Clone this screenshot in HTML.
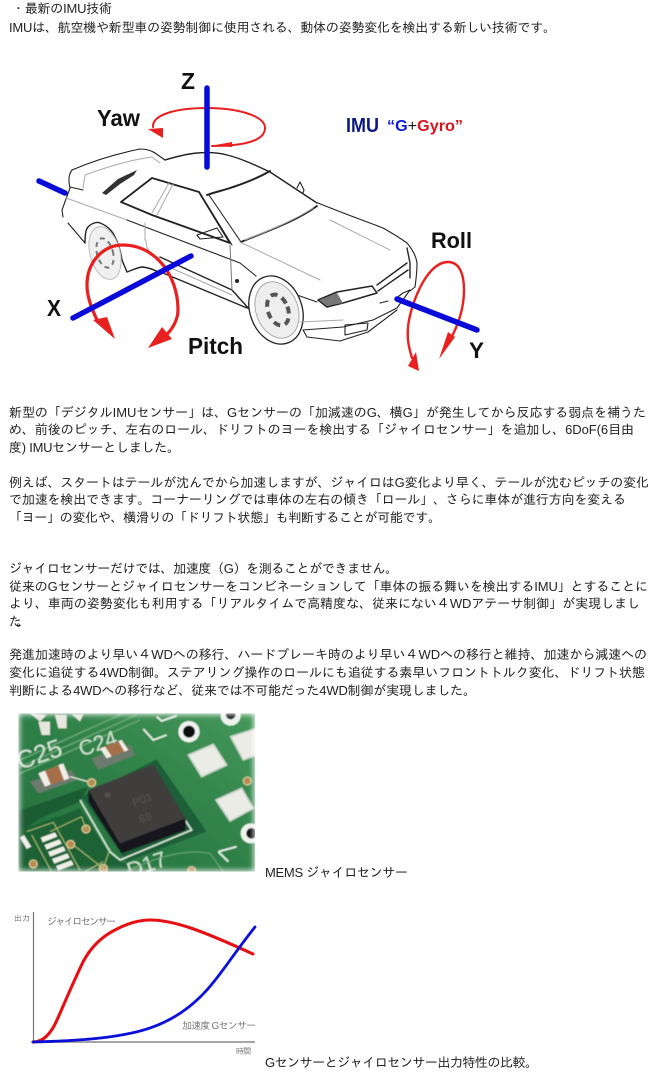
<!DOCTYPE html>
<html lang="ja">
<head>
<meta charset="utf-8">
<title>IMU</title>
<style>
html,body{margin:0;padding:0;background:#fff;width:660px;height:1082px;overflow:hidden}
svg{display:block}
.t text{font-family:"Liberation Sans","IPAGothic","Noto Sans CJK JP",sans-serif;font-size:13px;fill:#222}
.lab{font-family:"Liberation Sans",sans-serif;font-weight:bold;fill:#111}
.c{fill:none;stroke:#222;stroke-width:1.1;stroke-linecap:round;stroke-linejoin:round}
.g{fill:none;stroke:#aaa;stroke-width:1;stroke-linecap:round}
.b{stroke:#0a0ad8;stroke-width:5.5;stroke-linecap:round;fill:none}
.r{stroke:#e8201f;fill:none;stroke-linecap:round}
.s{font-family:"Liberation Sans","IPAGothic","Noto Sans CJK JP",sans-serif;font-size:10px;fill:#777}
</style>
</head>
<body>
<svg width="660" height="1082" viewBox="0 0 660 1082" xmlns="http://www.w3.org/2000/svg">
<defs>
<filter id="bl" x="-5%" y="-5%" width="110%" height="110%"><feGaussianBlur stdDeviation="1.8"/></filter>
<filter id="fe" x="-10%" y="-10%" width="120%" height="120%"><feGaussianBlur stdDeviation="9"/></filter>
<filter id="sf" x="-5%" y="-5%" width="110%" height="110%"><feGaussianBlur stdDeviation=".35"/></filter>
<linearGradient id="pg" x1="0" y1="1" x2="1" y2="0"><stop offset="0" stop-color="#226c3c"/><stop offset=".5" stop-color="#2f8048"/><stop offset="1" stop-color="#479a5c"/></linearGradient>
<clipPath id="pc"><rect x="25" y="25" width="710" height="475"/></clipPath>
</defs>

<g class="t">
<text x="12" y="13" textLength="100">・最新のIMU技術</text>
<text x="9" y="32" textLength="547">IMUは、航空機や新型車の姿勢制御に使用される、動体の姿勢変化を検出する新しい技術です。</text>
<text x="9" y="417" textLength="637">新型の「デジタルIMUセンサー」は、Gセンサーの「加減速のG、横G」が発生してから反応する弱点を補うた</text>
<text x="9" y="434" textLength="625">め、前後のピッチ、左右のロール、ドリフトのヨーを検出する「ジャイロセンサー」を追加し、6DoF(6目由</text>
<text x="9" y="452" textLength="171">度) IMUセンサーとしました。</text>
<text x="9" y="487" textLength="640">例えば、スタートはテールが沈んでから加速しますが、ジャイロはG変化より早く、テールが沈むピッチの変化</text>
<text x="9" y="504" textLength="617">で加速を検出できます。コーナーリングでは車体の左右の傾き「ロール」、さらに車体が進行方向を変える</text>
<text x="9" y="522" textLength="432">「ヨー」の変化や、横滑りの「ドリフト状態」も判断することが可能です。</text>
<text x="9" y="573" textLength="389">ジャイロセンサーだけでは、加速度（G）を測ることができません。</text>
<text x="9" y="591" textLength="639">従来のGセンサーとジャイロセンサーをコンビネーションして「車体の振る舞いを検出するIMU」とすることに</text>
<text x="9" y="608" textLength="631">より、車両の姿勢変化も利用する「リアルタイムで高精度な、従来にない４WDアテーサ制御」が実現しまし</text>
<text x="9" y="626" textLength="20">た。</text>
<text x="9" y="659" textLength="638">発進加速時のより早い４WDへの移行、ハードブレーキ時のより早い４WDへの移行と維持、加速から減速への</text>
<text x="9" y="677" textLength="636">変化に追従する4WD制御。ステアリング操作のロールにも追従する素早いフロントトルク変化、ドリフト状態</text>
<text x="9" y="695" textLength="467">判断による4WDへの移行など、従来では不可能だった4WD制御が実現しました。</text>
<text x="265" y="877" textLength="143">MEMS ジャイロセンサー</text>
<text x="265" y="1067" textLength="273">Gセンサーとジャイロセンサー出力特性の比較。</text>
</g>

<!-- car -->
<g filter="url(#sf)">
<path class="c" d="M70 188C68 180 69 174 72 170C95 160 120 153 140 149C147 149 152 151 155 153L165 160"/>
<path class="g" d="M83 188L85 175C110 166 130 160 152 157L160 163"/>
<path class="c" d="M70 187L83 190"/>
<path d="M102 193L118 179L137 170L134 175L120 184L106 195Z" fill="#333"/>
<path class="c" d="M165 160C175 157 186 154 197 153C210 152 220 153 227 155C240 158 255 165 270 172L317 203" style="stroke-width:1.4"/>
<path class="c" d="M318 203C340 212 362 220 383 228C392 233 400 238 407 243C413 250 416 256 417 263C417 272 416 280 415 287L410 291"/>
<path class="c" style="stroke-width:2" d="M207 195C215 192 225 190 233 187C245 183 258 178 270 171"/>
<path class="c" d="M209 195L241 242"/>
<path class="c" style="stroke-width:1.8" d="M241 242C265 232 295 222 317 206"/>
<path class="g" d="M245 240C270 230 295 220 313 208"/>
<path class="c" style="stroke-width:1.8" d="M121 202L152 178L199 192L230 243L152 215Z"/>
<path class="g" d="M169 183L152 213M173 184L157 215"/>
<path class="c" d="M199 192L232 245"/>
<path class="c" d="M70 188L62 210L63 217M68 223L85 243"/>
<path class="g" d="M66 198L127 220"/>
<path class="c" d="M127 220L240 263L256 276"/>
<path class="c" style="stroke-width:1.4" d="M160 257L232 290L250 310M163 273L247 308"/>
<path class="g" d="M160 263L232 295M145 223V240M146 240C146 250 150 255 160 258"/>
<path class="g" d="M230 245L232 290" style="stroke:#777"/>
<path class="c" d="M197 235L217 228L223 237L200 239Z"/>
<circle cx="237" cy="281" r="2" fill="#222"/>
<path class="c" style="stroke-width:1.4" d="M85 243C85 235 86 229 88 227C93 222 98 222 100 223C108 226 113 232 115 237C119 245 121 253 122 260L127 272C133 270 138 267 143 267C150 268 155 270 160 273"/>
<ellipse cx="105" cy="253" rx="15" ry="27" fill="#f0f0f0" stroke="#bbb" transform="rotate(-15 105 253)"/>
<ellipse cx="105" cy="253" rx="8" ry="15" fill="none" stroke="#777" stroke-width="2" stroke-dasharray="5 4" transform="rotate(-15 105 253)"/>
<path class="c" d="M284 281L297 295L317 302"/>
<ellipse cx="276" cy="310" rx="26" ry="35" fill="#fff" stroke="#222" stroke-width="1.3" transform="rotate(-20 276 310)"/>
<ellipse cx="277" cy="310" rx="21" ry="29" fill="#eee" stroke="#aaa" transform="rotate(-20 277 310)"/>
<ellipse cx="278" cy="310" rx="10" ry="16" fill="none" stroke="#555" stroke-width="4" stroke-dasharray="7 5" transform="rotate(-20 278 310)"/>
<path class="c" style="stroke-width:1.5" fill="#fff" d="M318 300L337 292L372 286L377 293L343 303L327 307Z"/>
<path d="M319 300L337 293L343 303L327 306Z" fill="#777"/>
<path class="c" style="stroke-width:1.4" d="M377 285L407 263M378 291L408 270M407 248L410 263M410 263V278"/>
<path class="c" d="M410 290L397 308L373 320L343 327L303 330L307 337L340 341L368 332L397 310"/>
<path class="c" d="M345 325L368 323L367 330L345 335Z"/>
<path class="c" d="M395 299L403 293L410 290M380 303L388 301"/>
<path class="g" d="M240 242L320 280M330 220L390 250M300 322L343 320"/>
<path class="c" d="M297 188L300 182L304 190L303 193"/>
</g>

<!-- axes -->
<path class="r" stroke-width="2" d="M212 146C240 146 265 142 265 128C265 115 235 108 207 108C175 108 152 115 153 127"/>
<path d="M148 129L163 128L163 138Z" fill="#e8201f"/>
<path d="M210 146L232 142L232 147Z" fill="#e8201f"/>
<path class="r" stroke-width="3.2" d="M97 320C90 305 87 295 87 285C87 262 103 245 123 245C155 245 178 275 178 310C178 320 172 330 165 336"/>
<path d="M93 320L107 317L115 339Z" fill="#e8201f"/>
<path d="M148 348L162 327L172 339Z" fill="#e8201f"/>
<path class="r" stroke-width="2.4" d="M412 358C409 348 407 340 408 328C409 310 425 262 448 262C460 262 464 275 464 290C464 305 460 322 450 340"/>
<path d="M408 366L416 352L419 371Z" fill="#e8201f"/>
<path d="M439 359L448 332L455 337Z" fill="#e8201f"/>
<path class="b" d="M207 88V167"/>
<path class="b" d="M39 181L65 193"/>
<path class="b" d="M73 318L191 256"/>
<path class="b" d="M397 299L477 330"/>

<text class="lab" x="181" y="89" font-size="23" textLength="14" lengthAdjust="spacingAndGlyphs">Z</text>
<text class="lab" x="97" y="126" font-size="23" textLength="43" lengthAdjust="spacingAndGlyphs">Yaw</text>
<text class="lab" x="47" y="316" font-size="23" textLength="14" lengthAdjust="spacingAndGlyphs">X</text>
<text class="lab" x="188" y="354" font-size="23" textLength="55" lengthAdjust="spacingAndGlyphs">Pitch</text>
<text class="lab" x="431" y="248" font-size="22" textLength="41" lengthAdjust="spacingAndGlyphs">Roll</text>
<text class="lab" x="469" y="358" font-size="22" textLength="15" lengthAdjust="spacingAndGlyphs">Y</text>
<text class="lab" x="346" y="132" font-size="20" textLength="33" lengthAdjust="spacingAndGlyphs" style="fill:#0a1a80">IMU</text>
<text class="lab" x="387" y="131" font-size="16" textLength="76" lengthAdjust="spacingAndGlyphs" style="fill:#0a1ad8">“G<tspan style="fill:#111;font-weight:normal">+</tspan><tspan style="fill:#d8141c">Gyro”</tspan></text>

<!-- photo -->
<g transform="translate(10 705) scale(.33333)">
<g clip-path="url(#pc)">
<g filter="url(#bl)">
<rect x="0" y="0" width="760" height="520" fill="url(#pg)"/>
<path d="M20 320L235 245L210 290L90 340L20 390Z" fill="#1c5c33"/>
<path d="M20 380L210 310L300 450L420 520H20Z" fill="#1f6236"/>
<path d="M20 210L390 45M20 190L380 30M20 170L340 25" stroke="#6aa878" stroke-width="4" fill="none"/>
<path d="M60 25L90 50L110 30ZM85 50H120V90H95ZM135 30H170V70H145ZM185 28H220L210 50Z" fill="#e6e6de"/>
<text x="30" y="195" transform="rotate(-19 30 195)" font-family="Liberation Sans,sans-serif" font-size="76" fill="#cfe3d2">C25</text>
<text x="215" y="155" transform="rotate(-19 215 155)" font-family="Liberation Sans,sans-serif" font-size="64" fill="#cfe3d2">C24</text>
<path d="M400 72L430 105L470 90M440 35L455 48L500 32M625 440L655 470M625 440L680 425" stroke="#dfeee2" stroke-width="6" fill="none"/>
<path d="M60 230L185 195L200 225L85 265Z" fill="#6d7a6e"/>
<path d="M85 205L160 175L178 220L105 245Z" fill="#a5704a"/>
<path d="M85 205L105 197L122 238L105 245ZM145 180L160 175L178 220L162 226Z" fill="#f0eee6"/>
<path d="M245 160L360 120L375 150L265 195Z" fill="#6d7a6e"/>
<path d="M270 130L335 105L355 135L290 160Z" fill="#a5704a"/>
<path d="M270 130L285 125L305 154L290 160ZM325 108L335 105L355 135L343 140Z" fill="#f0eee6"/>
<path d="M180 215L245 233" stroke="#dfe8d8" stroke-width="4"/>
<path d="M440 163L590 380L350 470L215 275Z" fill="#1f5f37"/>
<path d="M210 285L300 440L330 465L545 375L525 345" stroke="#d8e8dc" stroke-width="5" fill="none"/>
<path d="M235 255L235 290L335 445L527 375V340L330 415Z" fill="#17151a"/>
<path d="M235 255L430 178L527 340L330 415Z" fill="#403c3d"/>
<circle cx="293" cy="270" r="9" fill="#57504f"/>
<text x="372" y="305" transform="rotate(-20 372 305)" font-family="Liberation Sans,sans-serif" font-size="34" fill="#5b5553">P01</text>
<text x="392" y="355" transform="rotate(-20 392 355)" font-family="Liberation Sans,sans-serif" font-size="34" fill="#5b5553">69</text>
<path d="M535 150L610 118L650 180L575 215Z" fill="#ecece6" stroke="#c9d6cb" stroke-width="5"/>
<path d="M618 285L695 250L730 310L660 348Z" fill="#ecece6" stroke="#c9d6cb" stroke-width="5"/>
<path d="M662 95L740 70V150L700 165Z" fill="#ecece6" stroke="#c9d6cb" stroke-width="5"/>
<circle cx="537" cy="80" r="32" fill="#eef2ee"/><circle cx="537" cy="80" r="18" fill="#111"/>
<circle cx="662" cy="32" r="30" fill="#eef2ee"/><circle cx="662" cy="28" r="15" fill="#111"/>
<circle cx="722" cy="385" r="30" fill="#eef2ee"/><circle cx="725" cy="385" r="16" fill="#111"/>
<g fill="#b78a50" stroke="#e2d9a8" stroke-width="3">
<circle cx="245" cy="233" r="12"/><circle cx="228" cy="372" r="12"/><circle cx="182" cy="418" r="12"/><circle cx="70" cy="477" r="12"/><circle cx="280" cy="490" r="12"/><circle cx="712" cy="228" r="12"/><circle cx="545" cy="497" r="12"/>
</g>
<g fill="#efefe8">
<path d="M92 398L135 382L142 395L98 412Z"/><path d="M103 420L148 403L155 416L110 434Z"/><path d="M114 441L160 424L167 437L121 455Z"/><path d="M126 462L172 445L179 458L133 476Z"/><path d="M138 483L184 466L191 479L145 497Z"/>
<path d="M30 398L42 390L64 425L50 432Z"/>
</g>
<path d="M50 380L130 352L210 495M65 390L130 510M120 380L215 335L228 372M190 420L280 490L300 430M280 470L225 500" stroke="#b9c878" stroke-width="2.5" fill="none"/>
<text x="360" y="520" transform="rotate(-19 360 520)" font-family="Liberation Sans,sans-serif" font-size="66" fill="#cfe3d2">D17</text>
<path d="M350 500C430 460 520 430 600 445L640 500" stroke="#6aa878" stroke-width="3" fill="none"/>
</g>
</g>
<rect x="20" y="20" width="720" height="485" fill="none" stroke="#fff" stroke-width="16" filter="url(#fe)"/>
<path d="M0 0H760V520H0ZM25 25V500H735V25Z" fill="#fff" fill-rule="evenodd"/>
</g>

<!-- chart -->
<path d="M33.5 912V1042" fill="none" stroke="#777" stroke-width="1.2"/>
<path d="M33 1042H255" fill="none" stroke="#999" stroke-width="1.8"/>
<path fill="none" stroke="#e60f14" stroke-width="3.1" stroke-linecap="round" d="M33 1042C42 1042 50 1036 57 1020C65 1002 72 985 83 962C92 945 103 936 115 930C128 923 140 920 150 920C175 920 205 932 253 954"/>
<path fill="none" stroke="#0a10d8" stroke-width="2.8" stroke-dasharray="3 .6" stroke-linecap="round" d="M33 1042C70 1041 110 1039 140 1031C170 1023 190 1008 205 992C220 976 235 952 255 927"/>
<text class="s" x="14" y="921" textLength="16" style="font-size:8px">出力</text>
<text class="s" x="47" y="925" textLength="69">ジャイロセンサー</text>
<text class="s" x="182" y="1029" textLength="74">加速度 Gセンサー</text>
<text class="s" x="236" y="1054" textLength="15" style="font-size:8px">時間</text>
</svg>
</body>
</html>
